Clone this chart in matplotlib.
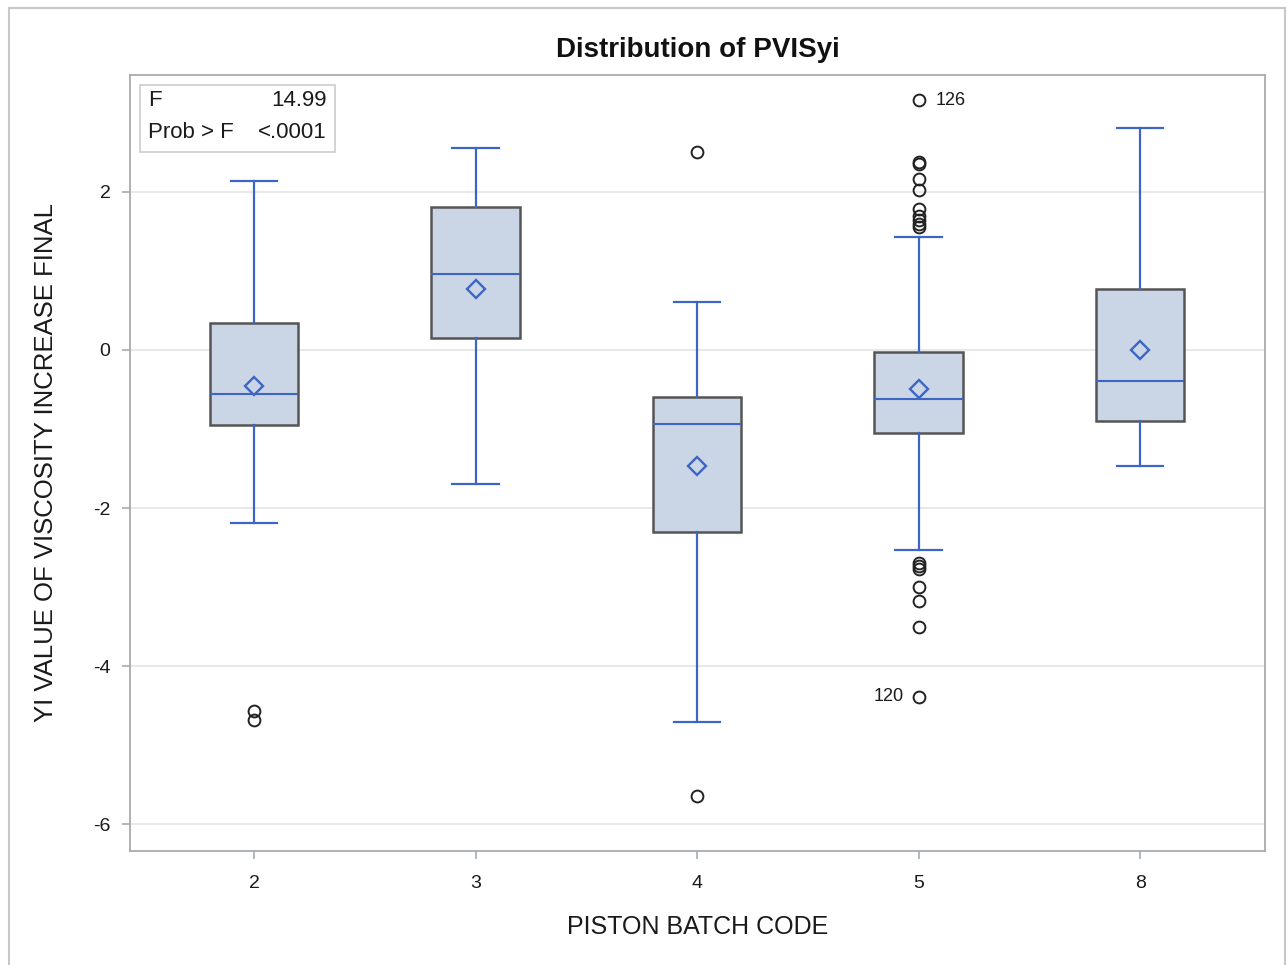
import matplotlib
matplotlib.use("Agg")
import matplotlib.pyplot as plt
from matplotlib.patches import Rectangle

plt.rcParams["font.family"] = ["Liberation Sans", "DejaVu Sans"]
plt.rcParams["axes.unicode_minus"] = False

# Summary statistics per piston batch code
batches = ["2", "3", "4", "5", "8"]
q1 = [-0.95, 0.15, -2.30, -1.05, -0.90]
medians = [-0.56, 0.96, -0.94, -0.62, -0.39]
q3 = [0.34, 1.81, -0.59, -0.03, 0.77]
means = [-0.46, 0.77, -1.47, -0.49, 0.00]
whisker_low = [-2.19, -1.70, -4.71, -2.53, -1.47]
whisker_high = [2.14, 2.56, 0.61, 1.43, 2.81]
outliers = [
    [-4.57, -4.68],
    [],
    [2.51, -5.65],
    [3.16, 2.38, 2.36, 2.16, 2.03, 1.79, 1.70, 1.64, 1.60, 1.56,
     -2.70, -2.73, -2.77, -3.00, -3.18, -3.51, -4.39],
    [],
]
# Labelled observations: (batch index, value, observation id)
labelled = [(3, 3.16, "126"), (3, -4.39, "120")]
f_value = "14.99"
p_value = "<.0001"

blue = "#3D66C4"
fill = "#CAD5E6"
edge = "#555555"
frame = "#A8ABAE"
ink = "#1A1A1A"

fig = plt.figure(figsize=(12.88, 9.65), dpi=100)
# outer graph border
fig.add_artist(Rectangle((9 / 1288, -0.01), (1285 - 9) / 1288, 1.01 - 8 / 965,
                         transform=fig.transFigure, fill=False,
                         edgecolor="#C8C8C8", linewidth=1.5))

ax = fig.add_axes([130 / 1288, 1 - 851 / 965, 1135 / 1288, 776 / 965])

stats = []
for i in range(len(batches)):
    stats.append(dict(med=medians[i], q1=q1[i], q3=q3[i],
                      whislo=whisker_low[i], whishi=whisker_high[i],
                      mean=means[i], fliers=outliers[i], label=batches[i]))

ax.bxp(stats, positions=range(len(batches)), widths=0.40, capwidths=0.21,
       showmeans=True, patch_artist=True,
       boxprops=dict(facecolor=fill, edgecolor=edge, linewidth=1.8),
       medianprops=dict(color=blue, linewidth=1.5),
       whiskerprops=dict(color=blue, linewidth=1.6),
       capprops=dict(color=blue, linewidth=1.6),
       meanprops=dict(marker="D", markersize=9.5, markerfacecolor="none",
                      markeredgecolor=blue, markeredgewidth=1.7),
       flierprops=dict(marker="o", markersize=8.5, markerfacecolor="none",
                       markeredgecolor="#222222", markeredgewidth=1.4),
       zorder=3)

for idx, val, lab in labelled:
    if val > 0:
        ax.annotate(lab, (idx, val), xytext=(12, 0), textcoords="offset points",
                    ha="left", va="center", fontsize=13, color=ink)
    else:
        ax.annotate(lab, (idx, val), xytext=(-11, 0), textcoords="offset points",
                    ha="right", va="center", fontsize=13, color=ink)

ax.set_xlim(-0.56, 4.564)
ax.set_ylim(-6.34, 3.48)
ax.set_yticks([2, 0, -2, -4, -6])
ax.set_xticks(range(len(batches)))
ax.set_xticklabels(batches)
ax.yaxis.grid(True, color="#E6E6E6", linewidth=1.3, zorder=0)
ax.set_axisbelow(True)
for s in ax.spines.values():
    s.set_color(frame)
    s.set_linewidth(1.3)
ax.tick_params(axis="both", direction="out", length=6, width=1.2,
               color=frame, labelsize=14, labelcolor=ink)
ax.tick_params(axis="x", pad=11)
ax.tick_params(axis="y", pad=8)

ax.set_title("Distribution of PVISyi", fontsize=20, fontweight="bold",
             color="#111111", pad=13)
ax.set_xlabel("PISTON BATCH CODE", fontsize=18, color=ink, labelpad=17)
ax.set_ylabel("YI VALUE OF VISCOSITY INCREASE FINAL", fontsize=18.5,
              color=ink, labelpad=25)

# ANOVA inset
inset_x0, inset_y0 = 140 / 1288, 1 - 152 / 965
fig.add_artist(Rectangle((inset_x0, inset_y0), 195 / 1288, 67 / 965,
                         transform=fig.transFigure, facecolor="white",
                         edgecolor="#D0D0D0", linewidth=1.3, zorder=5))
for row_y, left_txt, right_txt in [(101, "F", f_value),
                                   (133, "Prob > F", p_value)]:
    fig.text(148 / 1288, 1 - row_y / 965, left_txt, fontsize=16,
             va="center", ha="left", color=ink, zorder=6)
    fig.text(327 / 1288, 1 - row_y / 965, right_txt, fontsize=16,
             va="center", ha="right", color=ink, zorder=6)

fig.savefig("out.png", dpi=100)
